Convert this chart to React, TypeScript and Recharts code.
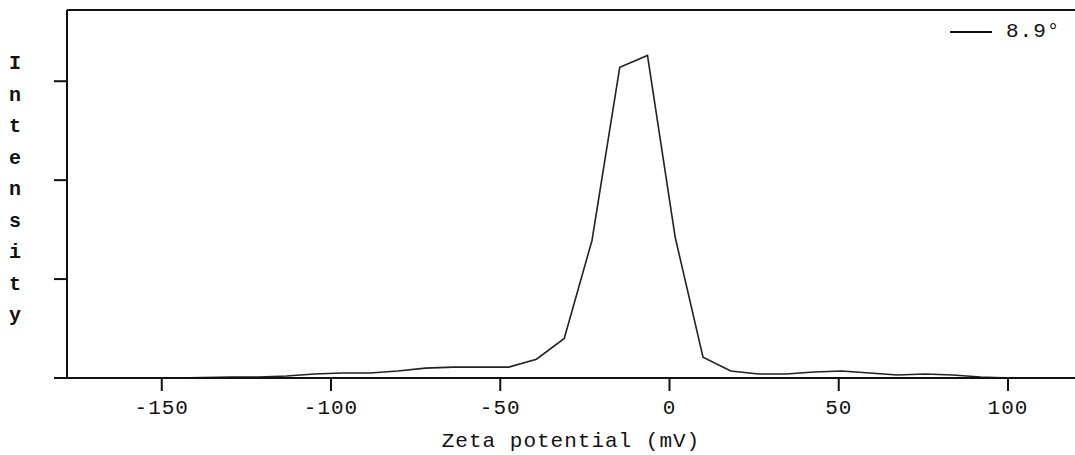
import { LineChart, Line, XAxis, YAxis, ReferenceLine } from 'recharts'

const zeta = [
  -170.5, -162.3, -154.1, -145.9, -137.7, -129.5, -121.3, -113.1, -104.9, -96.7,
  -88.5, -80.3, -72.1, -63.9, -55.7, -47.5, -39.3, -31.1, -22.9, -14.7,
  -6.5, 1.7, 9.9, 18.1, 26.3, 34.5, 42.7, 50.9, 59.1, 67.3,
  75.5, 83.7, 91.9, 100.1, 108.3, 116.5,
]
const intensity = [
  0, 0, 0, 0, 0.005, 0.01, 0.01, 0.02, 0.04, 0.05,
  0.05, 0.07, 0.1, 0.11, 0.11, 0.11, 0.19, 0.4, 1.39, 3.14,
  3.26, 1.42, 0.21, 0.07, 0.04, 0.04, 0.06, 0.07, 0.05, 0.03,
  0.04, 0.03, 0.01, 0, 0, 0,
]
const xTicks = [-150, -100, -50, 0, 50, 100]
const yTicks = [0, 1, 2, 3]
const yLabel = 'Intensity'
const seriesName = '8.9°'

const data = zeta.map((z, i) => ({ zeta: z, intensity: intensity[i] }))

const font = "'Courier New', 'Liberation Mono', monospace"

function IntensityLabel() {
  return (
    <g>
      {yLabel.split('').map((ch, i) => (
        <text
          key={i}
          x={15}
          y={69 + i * 31.5}
          textAnchor="middle"
          fontFamily={font}
          fontSize={20}
          fontWeight="bold"
          fill="#111"
        >
          {ch}
        </text>
      ))}
    </g>
  )
}

export default function App() {
  return (
    <div style={{ position: 'absolute', left: 0, top: 0, width: 1075, height: 455, background: '#fff' }}>
      <LineChart width={1075} height={455} data={data} margin={{ top: 10, right: 0, left: 0, bottom: 0 }}>
        <XAxis
          dataKey="zeta"
          type="number"
          domain={[-178, 119.8]}
          ticks={xTicks}
          allowDataOverflow
          height={77}
          tickSize={13}
          axisLine={{ stroke: '#111', strokeWidth: 2 }}
          tickLine={{ stroke: '#111', strokeWidth: 2 }}
          tick={{ fill: '#111', fontFamily: font, fontSize: 21, letterSpacing: 1, dy: 6 }}
          label={{
            value: 'Zeta potential (mV)',
            position: 'insideBottom',
            offset: 8,
            fill: '#111',
            fontFamily: font,
            fontSize: 21,
            letterSpacing: 1,
          }}
        />
        <YAxis
          type="number"
          domain={[0, 3.72]}
          ticks={yTicks}
          width={67}
          tickSize={13}
          tickFormatter={() => ''}
          axisLine={{ stroke: '#111', strokeWidth: 2 }}
          tickLine={{ stroke: '#111', strokeWidth: 2 }}
          label={<IntensityLabel />}
        />
        <ReferenceLine y={3.72} stroke="#111" strokeWidth={2} />
        <Line
          type="linear"
          dataKey="intensity"
          name={seriesName}
          stroke="#222"
          strokeWidth={1.6}
          dot={false}
          isAnimationActive={false}
        />
      </LineChart>
      <div
        style={{
          position: 'absolute',
          top: 20,
          left: 950,
          display: 'flex',
          alignItems: 'center',
          fontFamily: font,
          fontSize: 21,
          color: '#111',
        }}
      >
        <span style={{ display: 'inline-block', width: 42, borderTop: '2px solid #111', marginRight: 14 }} />
        <span style={{ letterSpacing: 1 }}>{seriesName}</span>
      </div>
    </div>
  )
}
